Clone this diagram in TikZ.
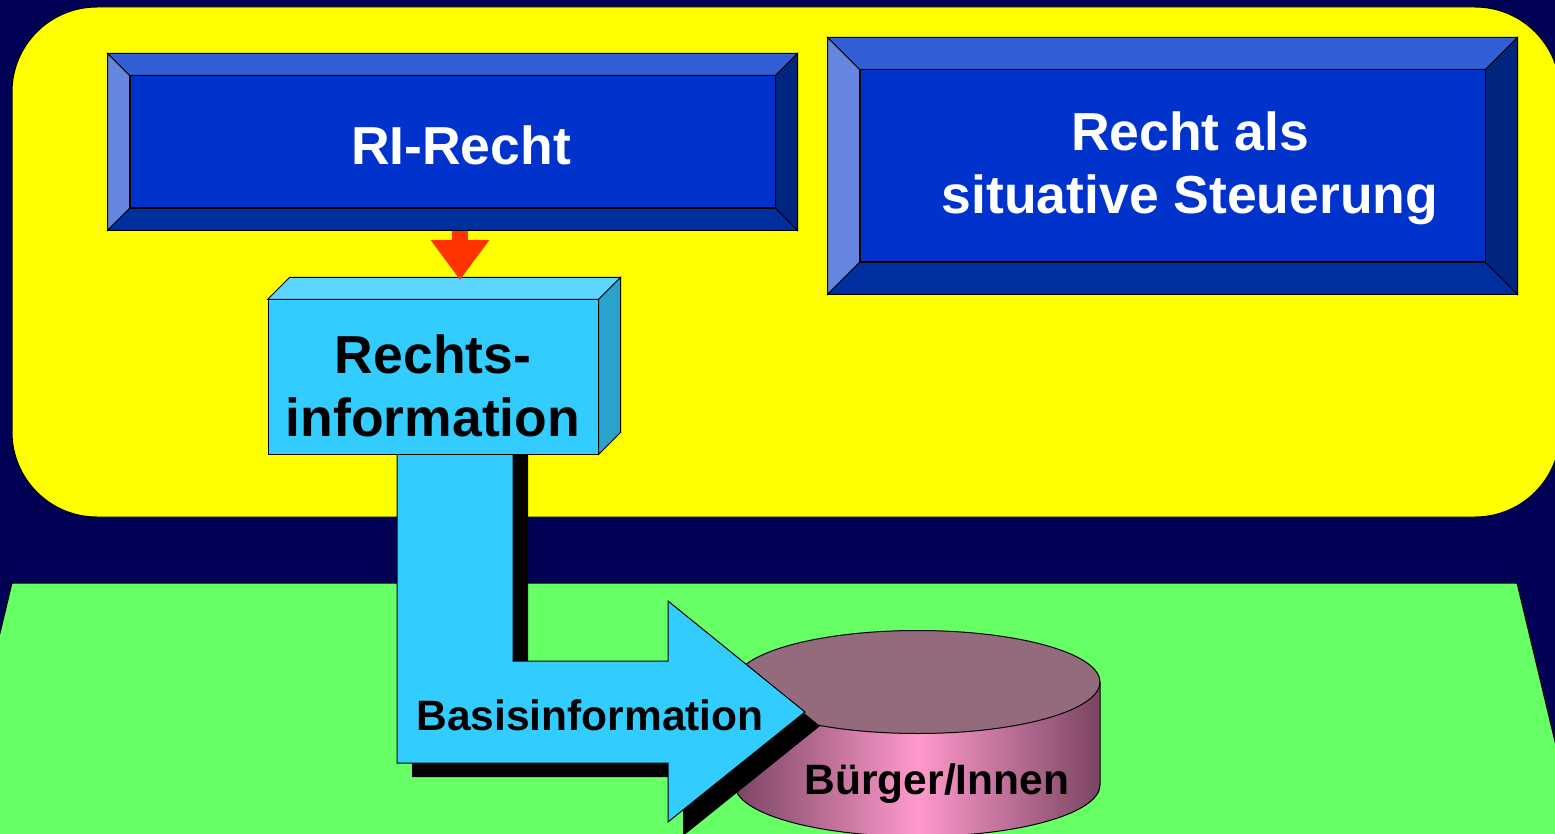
\documentclass[tikz,border=0pt]{standalone}
\usepackage{fontspec}
\setmainfont{Liberation Sans}
\usetikzlibrary{arrows.meta}
\definecolor{bgnavy}{HTML}{000055}
\definecolor{hellgelb}{HTML}{FFFF00}
\definecolor{hellgruen}{HTML}{66FF66}
\definecolor{cyanbox}{HTML}{33CCFF}
\definecolor{cyantop}{HTML}{5CD6FF}
\definecolor{cyanside}{HTML}{29A3CC}
\definecolor{blauinnen}{HTML}{0033CC}
\definecolor{blauoben}{HTML}{335FD6}
\definecolor{blaulinks}{HTML}{6685E0}
\definecolor{blaurechts}{HTML}{002680}
\definecolor{blauunten}{HTML}{0030A0}
\definecolor{pfeilrot}{HTML}{FF3300}
\definecolor{zyldeckel}{HTML}{946B7C}
\definecolor{zyldunkel}{HTML}{7A4562}
\definecolor{zylrosa}{HTML}{FF99CC}
% bevel frame round a box node: #1 node, #2 width
\newcommand\bevelrand[2]{%
  \filldraw[fill=blauoben] ([shift={(-#2,-#2)}]#1.north west) -- ([shift={(#2,-#2)}]#1.north east) -- (#1.north east) -- (#1.north west) -- cycle;
  \filldraw[fill=blaulinks] ([shift={(-#2,-#2)}]#1.north west) -- ([shift={(-#2,#2)}]#1.south west) -- (#1.south west) -- (#1.north west) -- cycle;
  \filldraw[fill=blaurechts] ([shift={(#2,-#2)}]#1.north east) -- ([shift={(#2,#2)}]#1.south east) -- (#1.south east) -- (#1.north east) -- cycle;
  \filldraw[fill=blauunten] ([shift={(-#2,#2)}]#1.south west) -- ([shift={(#2,#2)}]#1.south east) -- (#1.south east) -- (#1.south west) -- cycle;
}
\begin{document}
\begin{tikzpicture}[x=1pt,y=-1pt,line width=1pt,
    blaubox/.style={draw=black,fill=blauinnen,inner sep=0pt},
    grosstext/.style={font=\bfseries\fontsize{53.5}{63}\selectfont,align=center,inner sep=0pt},
    kleintext/.style={font=\bfseries\fontsize{42.5}{48}\selectfont,inner sep=0pt}]
  \useasboundingbox (0,0) rectangle (1555,834);
  \fill[bgnavy] (0,0) rectangle (1555,834);
  % upper and lower planes
  \filldraw[fill=hellgelb,rounded corners=85pt] (12,7) rectangle (1560,517);
  \filldraw[fill=hellgruen] (-50,842) -- (12,583) -- (1517,583) -- (1579,842) -- cycle;
  % cylinder
  \shade[left color=zyldunkel,right color=zyldunkel,middle color=zylrosa]
    (735,682) -- (735,785) arc[start angle=180,end angle=0,x radius=182.5,y radius=51.5] -- (1100,682) -- cycle;
  \draw (735,682) -- (735,785) arc[start angle=180,end angle=0,x radius=182.5,y radius=51.5] -- (1100,682);
  \filldraw[fill=zyldeckel] (917.5,682) ellipse[x radius=182.5,y radius=51.5];
  \node[kleintext] (buerger) at (937,784) {Bürger/Innen};
  % L-shaped arrow with shadow
  \fill[black,shift={(15,14)}] (397,440) -- (513,440) -- (513,661) -- (668,661) -- (668,601)
    -- (805,712) -- (668,822) -- (668,763) -- (397,763) -- cycle;
  \filldraw[fill=cyanbox] (397,454) -- (513,454) -- (513,661) -- (668,661) -- (668,601)
    -- (805,712) -- (668,822) -- (668,763) -- (397,763) -- cycle;
  \node[kleintext] (basis) at (590,715) {Basisinformation};
  % block
  \node[draw=black,fill=cyanbox,minimum width=330pt,minimum height=154pt,inner sep=0pt] (rinfo) at (433,377) {};
  \filldraw[fill=cyantop] (rinfo.north west) -- ++(22,-22) -- ([shift={(22,-22)}]rinfo.north east) -- (rinfo.north east) -- cycle;
  \filldraw[fill=cyanside] (rinfo.north east) -- ++(22,-22) -- ([shift={(22,-22)}]rinfo.south east) -- (rinfo.south east) -- cycle;
  \node[grosstext] (rinfotxt) at (433,386) {Rechts-\\information};
  % blue boxes
  \node[blaubox,minimum width=645pt,minimum height=132pt] (recht) at (452.5,142) {};
  \coordinate (rspitze) at (460,280);
  \draw[pfeilrot,line width=16pt,-{Triangle[width=56pt,length=40pt]}] (recht.south -| rspitze) -- (rspitze);
  \bevelrand{recht}{22}
  \node[grosstext,white] (rechttxt) at (461,145) {RI-Recht};
  \node[blaubox,minimum width=625pt,minimum height=192pt] (steuer) at (1172.5,166) {};
  \bevelrand{steuer}{32}
  \node[grosstext,white] (steuertxt) at (1190,168) {Recht als\\situative Steuerung};
\end{tikzpicture}
\end{document}
